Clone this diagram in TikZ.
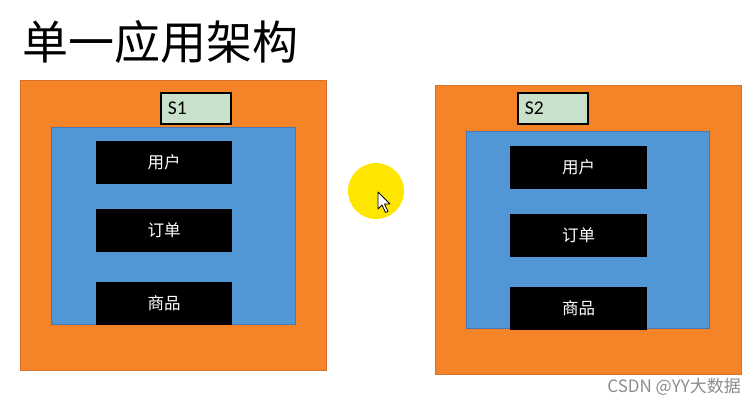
\documentclass[tikz,border=0pt]{standalone}
\usepackage{fontspec}
\setmainfont{Carlito}
\newfontfamily\cjk{Noto Sans CJK SC}
\usepackage{tikz}
\usetikzlibrary{positioning}
\definecolor{boxorange}{RGB}{245,132,40}
\definecolor{edgeorange}{RGB}{214,112,45}
\definecolor{layerblue}{RGB}{81,150,213}
\definecolor{edgeblue}{RGB}{70,120,180}
\definecolor{taggreen}{RGB}{199,225,203}
\definecolor{spotyellow}{RGB}{255,230,0}

\begin{document}
\begin{tikzpicture}[x=1pt, y=-1pt,
    server/.style={rectangle, draw=edgeorange, fill=boxorange, inner sep=0pt,
                   minimum width=306pt, minimum height=290pt, anchor=north west},
    layer/.style={rectangle, draw=edgeblue, fill=layerblue, inner sep=0pt,
                  minimum width=244pt, minimum height=197pt},
    module/.style={rectangle, fill=black, text=white, inner sep=0pt,
                   minimum width=136pt, minimum height=43pt, font=\cjk\fontsize{16.5}{16.5}\selectfont},
    tag/.style={rectangle, draw=black, line width=1.6pt, fill=taggreen, inner sep=0pt,
                minimum width=70pt, minimum height=31pt, text width=56pt, align=left,
                font=\fontsize{19.5}{19.5}\selectfont}]
    \useasboundingbox (0,0) rectangle (755,406);

    \node[anchor=west, inner sep=0pt, font=\cjk\fontsize{46}{46}\selectfont] (title) at (22,42) {单一应用架构};

    % left server
    \node[server] (s1box) at (20,80) {};
    \node[tag, below right=12pt and 140pt of s1box.north west] (s1tag) {S1};
    \node[layer, below right=47pt and 31pt of s1box.north west] (s1layer) {};
    \node[module, below right=14pt and 45pt of s1layer.north west] (s1user) {用户};
    \node[module, below=24pt of s1user] (s1order) {订单};
    \node[module, below=30pt of s1order] (s1goods) {商品};

    % right server
    \node[server, minimum height=289pt] (s2box) at (435,85) {};
    \node[tag, below right=7pt and 82pt of s2box.north west] (s2tag) {S2};
    \node[layer, minimum width=243pt, below right=46pt and 31pt of s2box.north west] (s2layer) {};
    \node[module, minimum width=137pt, below right=15pt and 44pt of s2layer.north west] (s2user) {用户};
    \node[module, minimum width=137pt, below=24pt of s2user] (s2order) {订单};
    \node[module, minimum width=137pt, below=30pt of s2order] (s2goods) {商品};

    % pointer highlight
    \node[circle, fill=spotyellow, minimum size=56pt, inner sep=0pt] (spot) at (376,191) {};
    \draw[fill=white, line width=0.8pt, line join=round]
        (378,192) -- (378,209) -- (382,205) -- (385.5,212.5) -- (388,211.5) -- (384.5,204) -- (390,204) -- cycle;

    \node[anchor=east, inner sep=0pt, text=black!45, font=\cjk\fontsize{17}{17}\selectfont] (mark) at (741,387) {CSDN @YY大数据};
\end{tikzpicture}
\end{document}
